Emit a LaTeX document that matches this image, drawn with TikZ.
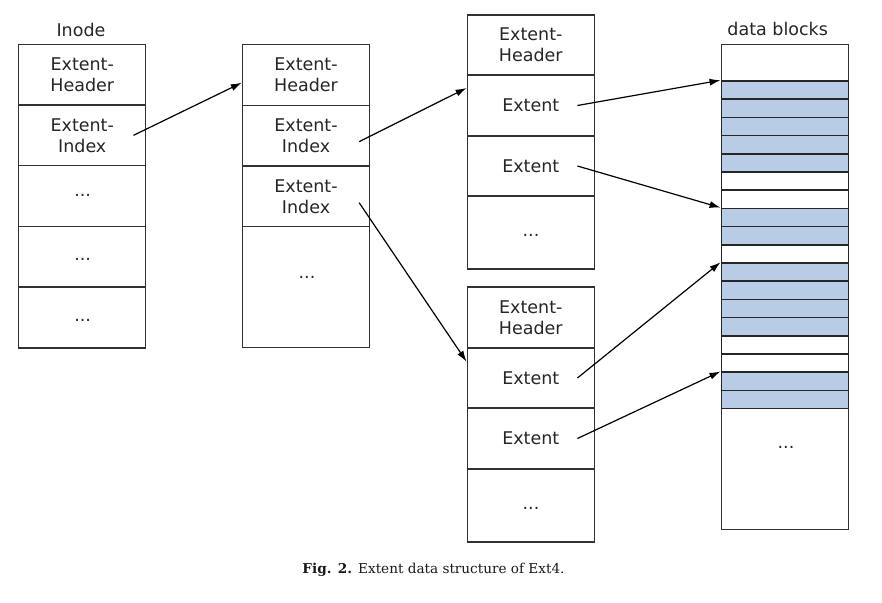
\documentclass[tikz,border=0pt]{standalone}
\usepackage{fontspec}
\newfontfamily\lblfont{DejaVu Sans}
\newfontfamily\capfont{DejaVu Serif}
\usetikzlibrary{arrows.meta}
\definecolor{blockblue}{RGB}{185,204,229}
\definecolor{boxline}{RGB}{50,50,50}
\begin{document}
\begin{tikzpicture}[x=1pt,y=-1pt,
 cell/.style={draw=boxline, line width=1.4pt, minimum width=127pt, inner sep=0pt, align=center, text=black!85, font=\lblfont\fontsize{17.5}{21}\selectfont},
 slot/.style={draw=black!85, line width=1.5pt, minimum width=127pt, minimum height=18.2pt, inner sep=0pt},
 txt/.style={inner sep=0pt, text=black!85, font=\lblfont\fontsize{17.5}{21}\selectfont},
 link/.style={draw=black, line width=1.2pt, -{Latex[length=11pt,width=7pt]}}]
\useasboundingbox (0,0) rectangle (882,602);

% Inode column
\node[txt, anchor=base] (inode) at (81,36.5) {Inode};
\node[cell, minimum height=60.7pt] (ih) at (82.25,74.65) {Extent-\\Header};
\node[cell, minimum height=60.7pt] (ii) at (82.25,135.35) {Extent-\\Index};
\node[cell, minimum height=60.7pt] (ia) at (82.25,196.05) {};
\node[cell, minimum height=60.7pt] (ib) at (82.25,256.75) {};
\node[cell, minimum height=60.7pt] (ic) at (82.25,317.45) {};
\node[txt] (iad) at (82.7,195.7) {...};
\node[txt] (ibd) at (82.7,259) {...};
\node[txt] (icd) at (82.7,320) {...};

% second column
\node[cell, minimum height=60.6pt] (c2h) at (306,75) {Extent-\\Header};
\node[cell, minimum height=60.7pt] (c2a) at (306,135.65) {Extent-\\Index};
\node[cell, minimum height=60.7pt] (c2b) at (306,196.35) {Extent-\\Index};
\node[cell, minimum height=120.6pt] (c2c) at (306,287) {};
\node[txt] (c2d) at (307,277) {...};

% third column, upper leaf
\node[cell, minimum height=60pt] (th) at (530.8,45) {Extent-\\Header};
\node[cell, minimum height=61pt] (t1) at (530.8,105.5) {Extent};
\node[cell, minimum height=60pt] (t2) at (530.8,166) {Extent};
\node[cell, minimum height=73pt] (t3) at (530.8,232.5) {};
\node[txt] (t3d) at (531,235) {...};

% third column, lower leaf
\node[cell, minimum height=61pt] (lh) at (530.8,317.5) {Extent-\\Header};
\node[cell, minimum height=60pt] (l1) at (530.8,378) {Extent};
\node[cell, minimum height=61pt] (l2) at (530.8,438.5) {Extent};
\node[cell, minimum height=73pt] (l3) at (530.8,505.5) {};
\node[txt] (l3d) at (531,508) {...};

% data blocks
\node[txt, anchor=base] (dbl) at (777.7,36) {data blocks};
\node[cell, minimum height=485pt] (data) at (784.8,286.8) {};
\foreach \k in {0,1,2,3,4,7,8,10,11,12,13,16,17}
  \node[slot, fill=blockblue] (s\k) at (784.8,{90.1+18.2*\k}) {};
\foreach \k in {5,6,9,14,15}
  \node[slot] (s\k) at (784.8,{90.1+18.2*\k}) {};
\node[txt] (dd) at (786,447.7) {...};

% connectors
\draw[link] ([xshift=-13pt]ii.east) -- ([yshift=-7.7pt]c2h.west);
\draw[link] ([xshift=-11pt,yshift=-6pt]c2a.east) -- ([yshift=17.5pt]t1.west);
\draw[link] ([xshift=-11pt,yshift=-6.4pt]c2b.east) -- ([yshift=16.3pt]l1.west);
\draw[link] ([xshift=-17.6pt]t1.east) -- (s0.north west);
\draw[link] ([xshift=-17.6pt]t2.east) -- (s7.north west);
\draw[link] ([xshift=-17.6pt]l1.east) -- (s10.north west);
\draw[link] ([xshift=-17.6pt]l2.east) -- (s16.north west);

% caption
\node[anchor=base, inner sep=0pt, text=black!90, font=\capfont\fontsize{13.6}{16}\selectfont] (cap) at (433.5,573) {\textbf{Fig. 2.}\hspace{0.45em}Extent data structure of Ext4.};
\end{tikzpicture}
\end{document}
